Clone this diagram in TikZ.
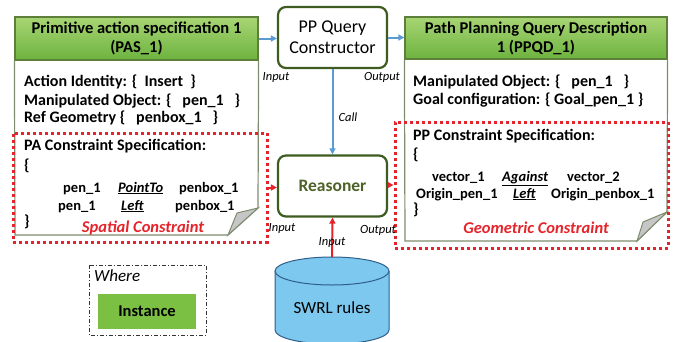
\documentclass[tikz,border=0pt]{standalone}
\usepackage{fontspec}
\setmainfont{Carlito}
\usetikzlibrary{positioning,arrows.meta}

\definecolor{hdrtop}{HTML}{A8D574}
\definecolor{hdrbot}{HTML}{6DB33F}
\definecolor{hdrline}{HTML}{5E7F3A}
\definecolor{bodyline}{HTML}{7D8C6E}
\definecolor{boxline}{HTML}{3E5C20}
\definecolor{reasontext}{HTML}{4F6228}
\definecolor{flowblue}{HTML}{5B9BD5}
\definecolor{consred}{HTML}{E5232A}
\definecolor{cylblue}{HTML}{7CC8EE}
\definecolor{cylline}{HTML}{2F5F8A}
\definecolor{instgreen}{HTML}{7BC043}

\tikzset{
  header/.style={draw=hdrline, line width=1.2pt, top color=hdrtop, bottom color=hdrbot,
    align=center, inner sep=0pt, font=\fontsize{16.5}{19}\selectfont\bfseries},
  entry/.style={anchor=west, inner sep=0pt, font=\fontsize{16}{18}\selectfont\bfseries},
  word/.style={anchor=base west, inner sep=0pt, font=\fontsize{14.5}{17}\selectfont\bfseries},
  procbox/.style={draw=boxline, line width=2.2pt, rounded corners=8pt, fill=white,
    minimum width=109pt, minimum height=61pt, align=center, font=\fontsize{18}{21}\selectfont},
  consbox/.style={draw=consred, line width=3pt, dash pattern=on 3pt off 3pt, inner sep=0pt},
  flowarrow/.style={draw=flowblue, line width=2pt, -{Triangle[length=6pt,width=6pt]}},
  consarrow/.style={draw=consred, line width=2pt, -{Triangle[length=6pt,width=6pt]}},
  portlabel/.style={inner sep=0pt, font=\fontsize{12.5}{14}\selectfont\itshape},
  constag/.style={inner sep=0pt, text=consred, font=\fontsize{16.5}{19}\selectfont\bfseries\itshape},
  fold/.style={draw=bodyline, line width=1pt, fill=gray!45}
}

\begin{document}
\begin{tikzpicture}[x=1pt,y=-1pt]
  \useasboundingbox (0,0) rectangle (685,341);

  % Primitive action specification
  \node[header, minimum width=243pt, minimum height=43pt] (pashead) at (136.5,38.5)
    {Primitive action specification 1\\(PAS\_1)};
  \draw[bodyline, line width=1.2pt] (pashead.south west) -- (15,235) -- (228,235)
    -- (258,208) -- (pashead.south east);
  \draw[fold] (258,208) -- (237,213) -- (228,235) -- cycle;
  \node[entry] (pasid) at (24,82) {Action Identity: \{\ \ Insert\ \ \}};
  \node[entry] (pasobj) at (24,101) {Manipulated Object: \{\ \ \ pen\_1\ \ \ \}};
  \node[entry] (pasref) at (24,118) {Ref Geometry \{\ \ \ penbox\_1\ \ \ \}};
  \node[consbox, minimum width=254pt, minimum height=109pt] (pacons) at (140,187.5) {};
  \node[entry] (pacname) at (24,146) {PA Constraint Specification:};
  \node[entry] (pacopen) at (24,166) {\{};
  \node[word] (pacsub1) at (63,192) {pen\_1};
  \node[word] (pacrel1) at (118,192) {\underline{\itshape PointTo}};
  \node[word] (pacobj1) at (179,192) {penbox\_1};
  \node[word] (pacsub2) at (58,210) {pen\_1};
  \node[word] (pacrel2) at (121,210) {\underline{\itshape Left}};
  \node[word] (pacobj2) at (175,210) {penbox\_1};
  \node[entry] (pacclose) at (24,222) {\}};
  \node[constag] (spatial) at (143,228) {Spatial Constraint};

  % Path planning query description
  \node[header, minimum width=262pt, minimum height=42pt] (ppqdhead) at (536,38)
    {Path Planning Query Description\\1 (PPQD\_1)};
  \draw[bodyline, line width=1.2pt] (ppqdhead.south west) -- (405,241) -- (637,241)
    -- (667,212) -- (ppqdhead.south east);
  \draw[fold] (667,212) -- (643,222) -- (637,241) -- cycle;
  \node[entry] (ppqdobj) at (413,82) {Manipulated Object: \{\ \ \ pen\_1\ \ \ \}};
  \node[entry] (ppqdgoal) at (413,100) {Goal configuration: \{ Goal\_pen\_1 \}};
  \node[consbox, minimum width=273pt, minimum height=126pt] (ppcons) at (531.5,185) {};
  \node[entry] (ppcname) at (413,136) {PP Constraint Specification:};
  \node[entry] (ppcopen) at (413,155) {\{};
  \node[word] (ppcsub1) at (432,181) {vector\_1};
  \node[word] (ppcrel1) at (502,181) {\underline{\itshape Against}};
  \node[word] (ppcobj1) at (567,181) {vector\_2};
  \node[word] (ppcsub2) at (416,198) {Origin\_pen\_1};
  \node[word] (ppcrel2) at (513,198) {\underline{\itshape Left}};
  \node[word] (ppcobj2) at (551,198) {Origin\_penbox\_1};
  \node[entry] (ppcclose) at (413,210) {\}};
  \node[constag] (geometric) at (536,228) {Geometric Constraint};

  % Query constructor and reasoner
  \node[procbox] (ppqc) at (332.5,37.5) {PP Query\\Constructor};
  \node[procbox, text=reasontext, font=\fontsize{17.5}{21}\selectfont\bfseries] (reasoner)
    at (332.5,186) {Reasoner};

  % SWRL rules store
  \fill[cylblue] (275,271) rectangle (389,330);
  \filldraw[fill=cylblue, draw=cylline, line width=1pt] (275,271) -- (275,330)
    arc[start angle=180, end angle=360, x radius=57, y radius=-14] -- (389,271);
  \filldraw[fill=cylblue, draw=cylline, line width=1pt] (332,271)
    ellipse[x radius=57, y radius=14];
  \coordinate (swrltop) at (332,257);
  \node[font=\fontsize{17}{20}\selectfont] (swrl) at (332,308) {SWRL rules};

  % Connectors
  \draw[flowarrow] (pashead.east) -- (pashead.east -| ppqc.west);
  \draw[flowarrow] (ppqc.east) -- (ppqc.east -| ppqdhead.west);
  \draw[flowarrow] (ppqc.south) -- (reasoner.north);
  \draw[consarrow] (pacons.east) -- (pacons.east -| reasoner.west);
  \draw[consarrow] (reasoner.east |- ppcons.east) -- (ppcons.west);
  \draw[consarrow] (swrltop) -- (reasoner.south);

  % Port labels
  \node[portlabel] (ppqcin) at (276,77) {Input};
  \node[portlabel] (ppqcout) at (382,77) {Output};
  \node[portlabel] (call) at (348,117) {Call};
  \node[portlabel] (reasonin) at (282,228) {Input};
  \node[portlabel] (reasonout) at (378,230) {Output};
  \node[portlabel] (swrlin) at (332,242) {Input};

  % Legend
  \draw[black!80, line width=1pt, dash pattern=on 4pt off 2pt on 1pt off 2pt] (89,265) rectangle (206,335);
  \node[anchor=west, inner sep=0pt, font=\fontsize{17}{20}\selectfont\itshape] (where) at (94,276) {Where};
  \node[fill=instgreen, minimum width=98pt, minimum height=35pt, inner sep=0pt,
    font=\fontsize{16.5}{19}\selectfont\bfseries] (instance) at (147,311.5) {Instance};
\end{tikzpicture}
\end{document}
